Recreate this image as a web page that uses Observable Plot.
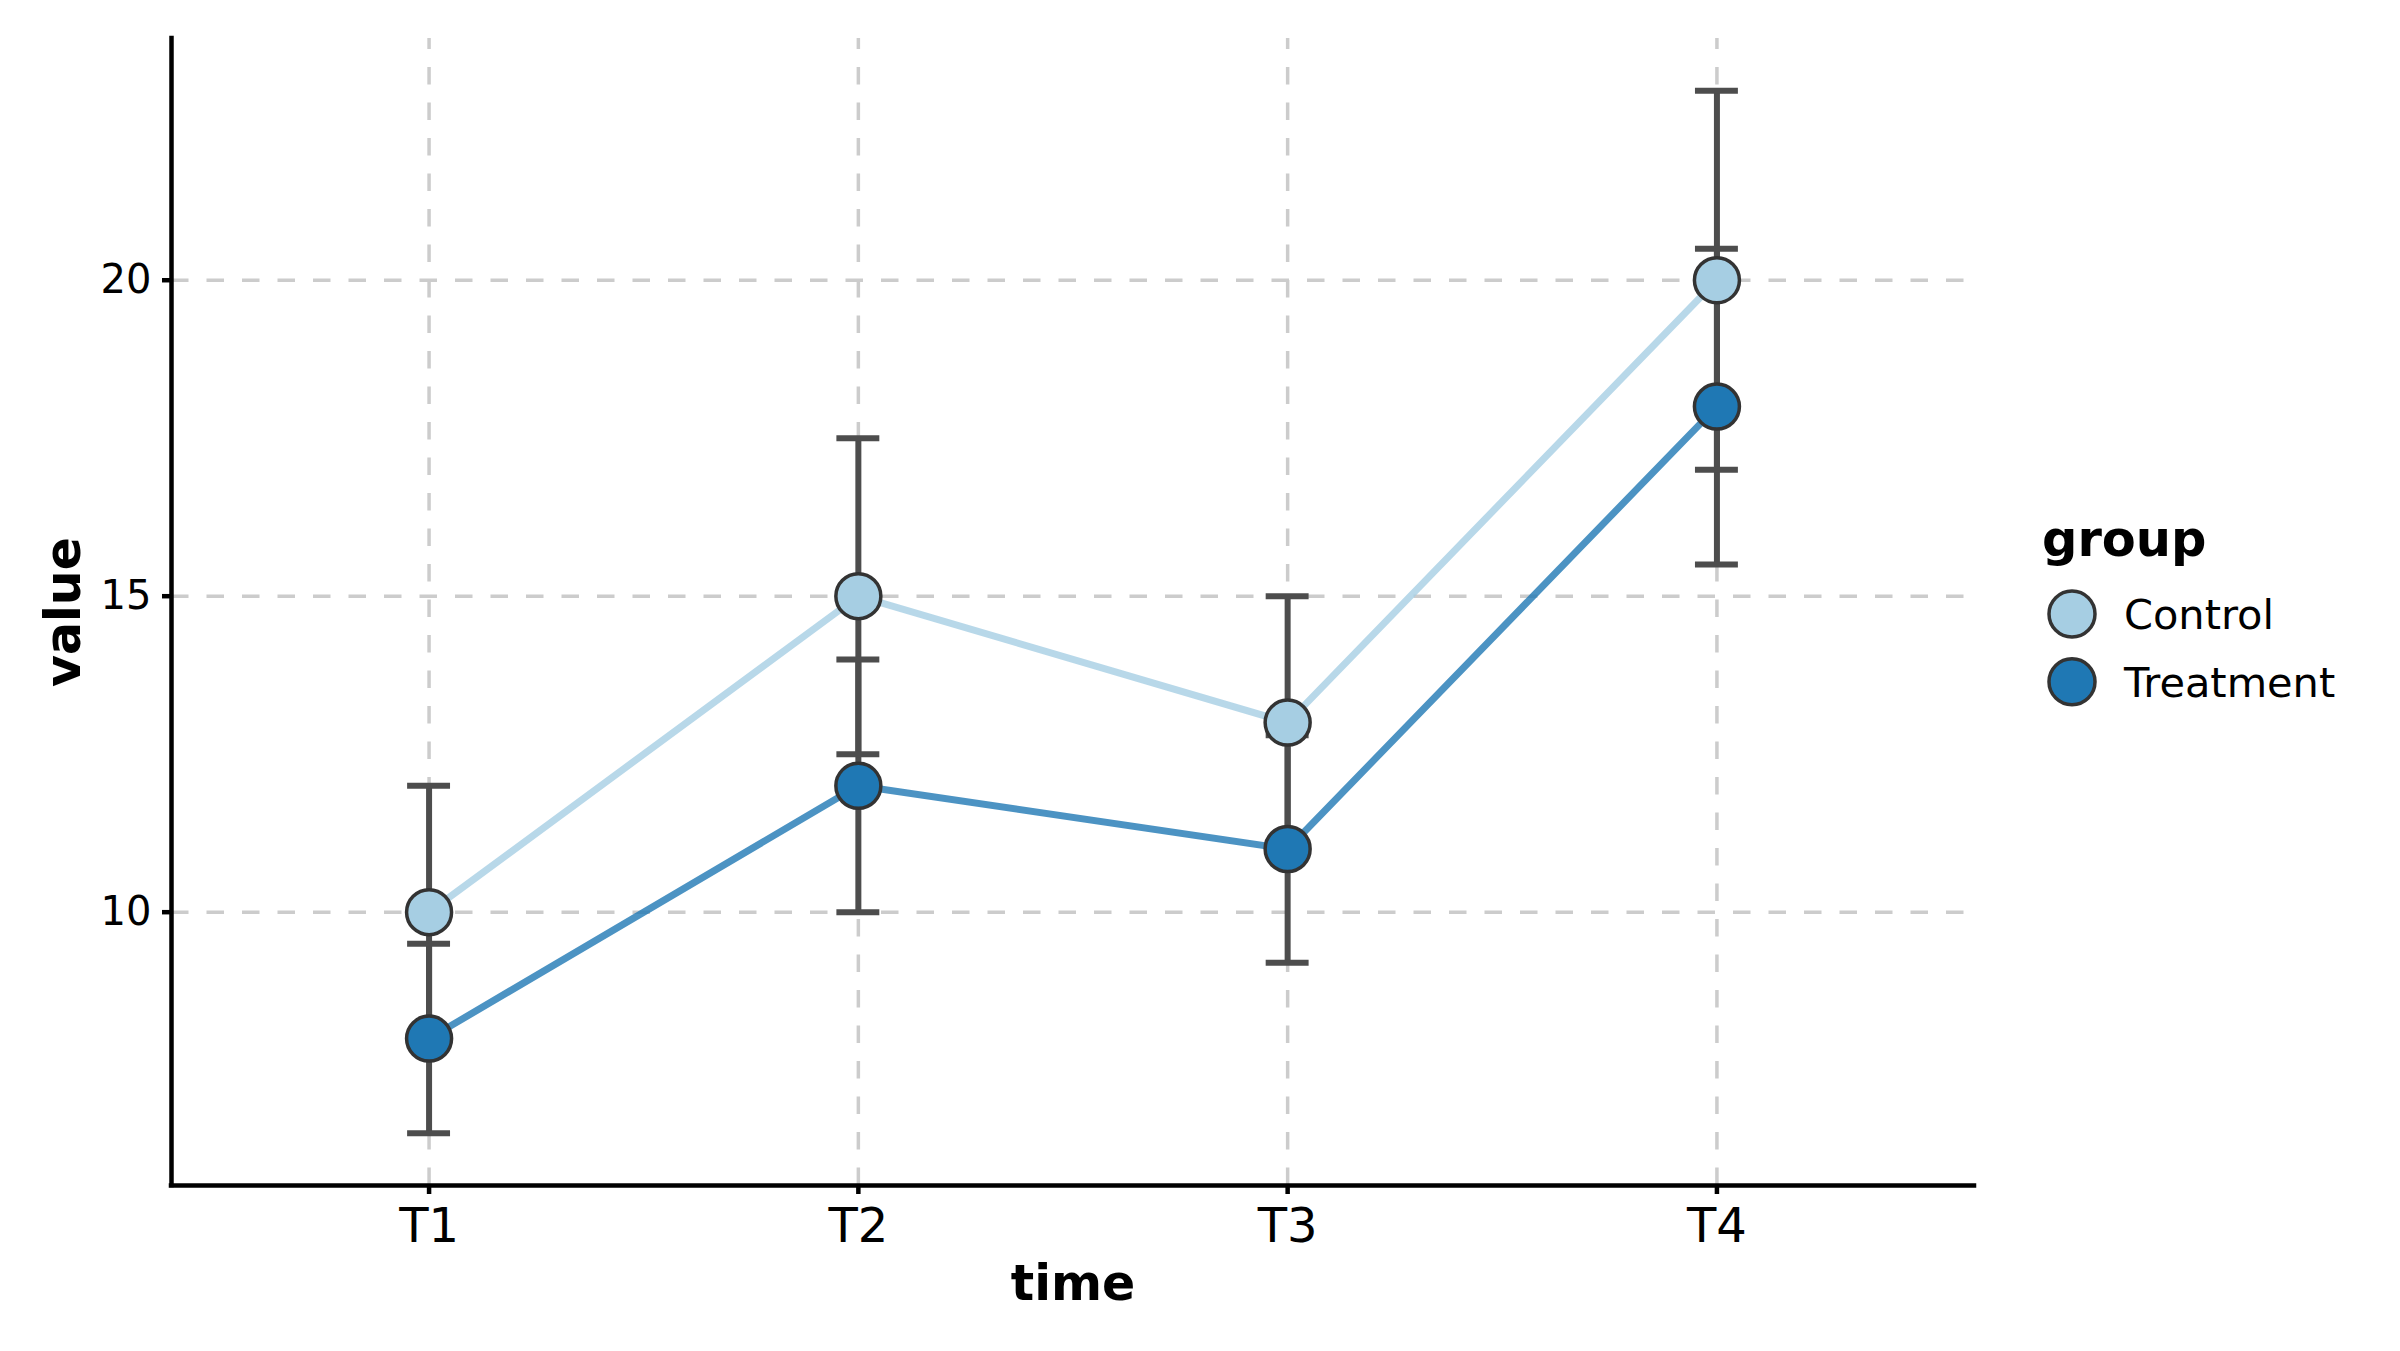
<!DOCTYPE html>
<html><head><meta charset="utf-8">
<script src="https://cdn.jsdelivr.net/npm/d3@7"></script>
<script src="https://cdn.jsdelivr.net/npm/@observablehq/plot@0.6"></script>
<style>
html,body{margin:0;padding:0;background:#fff;}
#wrap{position:relative;width:2400px;height:1351px;overflow:hidden;background:#fff;}
#wrap svg{display:block;}
#legend{position:absolute;left:0;top:0;pointer-events:none;}
</style></head>
<body><div id="wrap"></div>
<script>
const times = ["T1","T2","T3","T4"];
const groups = ["Control","Treatment"];
const controlMean = [10,15,13,20];
const controlErr = [2,2.5,2,3];
const treatmentMean = [8,12,11,18];
const treatmentErr = [1.5,2,1.8,2.5];
const yTicks = [10,15,20];
const groupFill = ["#a6cee3","#1f78b4"];
const xLabel = "time";
const yLabel = "value";
const legendTitle = "group";

const rows = [];
[[controlMean, controlErr],[treatmentMean, treatmentErr]].forEach(([m,e],g)=>{
  times.forEach((t,i)=> rows.push({group: groups[g], t: i+1, time: t, mean: m[i], lo: m[i]-e[i], hi: m[i]+e[i]}));
});
const lo = d3.min(rows, d=>d.lo), hi = d3.max(rows, d=>d.hi);
const pad = (hi-lo)*0.05;
const yDomain = [lo-pad, hi+pad];
const xDomain = [1-0.6, times.length+0.6];
const capHalf = 0.05;
const xIdx = times.map((t,i)=>i+1);
const barColor = "#4d4d4d";
const gridStyle = {stroke:"#cccccc", strokeWidth:3.5, strokeDasharray:"17.5,18"};

const chart = Plot.plot({
  width:2400, height:1351, marginLeft:171, marginRight:426, marginTop:38, marginBottom:166,
  style:{fontFamily:"'DejaVu Sans', sans-serif", background:"#fff", color:"#000", overflow:"visible"},
  x:{domain:xDomain},
  y:{domain:yDomain},
  color:{domain:groups, range:groupFill},
  marks:[
    Plot.ruleY(yTicks, {x1:xDomain[0], x2:xDomain[1], ...gridStyle}),
    Plot.ruleX(xIdx, {y1:yDomain[0], y2:yDomain[1], ...gridStyle}),
    Plot.line(rows, {x:"t", y:"mean", z:"group", stroke:"group", strokeOpacity:0.8, strokeWidth:7}),
    Plot.ruleX(rows, {x:"t", y1:"lo", y2:"hi", stroke:barColor, strokeWidth:6}),
    Plot.ruleY(rows, {y:"lo", x1:d=>d.t-capHalf, x2:d=>d.t+capHalf, stroke:barColor, strokeWidth:6}),
    Plot.ruleY(rows, {y:"hi", x1:d=>d.t-capHalf, x2:d=>d.t+capHalf, stroke:barColor, strokeWidth:6}),
    Plot.dot(rows, {x:"t", y:"mean", fill:"group", stroke:"#333333", strokeWidth:3.5, r:22.5}),
    Plot.ruleY([yDomain[0]], {x1:xDomain[0], x2:xDomain[1], stroke:"#000", strokeWidth:4.5, strokeLinecap:"square"}),
    Plot.ruleX([xDomain[0]], {y1:yDomain[0], y2:yDomain[1], stroke:"#000", strokeWidth:4.5, strokeLinecap:"square"}),
    Plot.axisX({ticks:xIdx, tickFormat:i=>times[i-1], tickSize:9, tickPadding:13, fontSize:48, strokeWidth:4.5, label:null}),
    Plot.axisY({ticks:yTicks, tickSize:9, tickPadding:11, fontSize:40, strokeWidth:4.5, label:null}),
    Plot.text([xLabel], {text:d=>d, frameAnchor:"bottom", dy:114, fontSize:49, fontWeight:"bold"}),
    Plot.text([yLabel], {text:d=>d, frameAnchor:"left", textAnchor:"middle", dx:-107, rotate:-90, fontSize:49, fontWeight:"bold"})
  ]
});
const wrap = document.getElementById("wrap");
wrap.append(chart);

// legend
const lg = d3.select(wrap).append("svg").attr("id","legend").attr("width",2400).attr("height",1351)
  .style("font-family","'DejaVu Sans', sans-serif");
lg.append("text").attr("x",2042).attr("y",556).attr("font-size",49.5).attr("font-weight","bold").attr("fill","#000").text(legendTitle);
groups.forEach((g,i)=>{
  const cy = 614 + i*67.7;
  lg.append("circle").attr("cx",2072).attr("cy",cy).attr("r",23).attr("fill",groupFill[i]).attr("stroke","#333333").attr("stroke-width",3.5);
  lg.append("text").attr("x",2124).attr("y",cy+15).attr("font-size",41.5).attr("fill","#000").text(g);
});
</script>
</body></html>
